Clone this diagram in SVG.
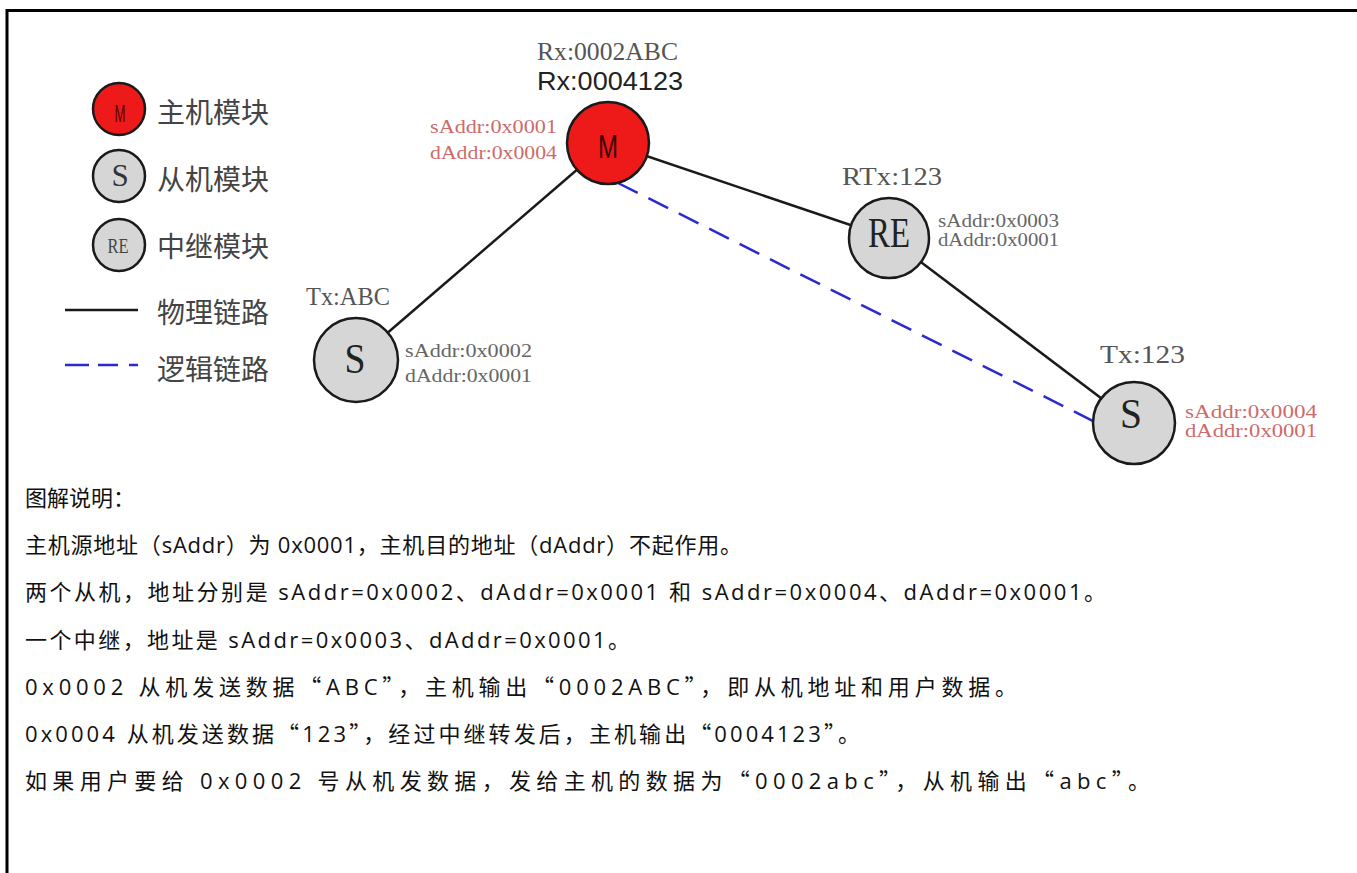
<svg xmlns="http://www.w3.org/2000/svg" width="1357" height="873" viewBox="0 0 1357 873">
<style>
.lbl{font-family:"Liberation Serif",serif;font-size:26px;fill:#555;}
.addr{font-family:"Liberation Serif",serif;font-size:19px;fill:#666;}
.addrr{font-family:"Liberation Serif",serif;font-size:19px;fill:#cd6b6b;}
.node{stroke:#1a1a1a;stroke-width:2.5;}
.grey{fill:#d6d6d6;}
.redf{fill:#ee1a1a;}
.big{font-family:"Liberation Serif",serif;font-size:42px;fill:#222;text-anchor:middle;}
.leg{font-family:"Noto Sans CJK SC",sans-serif;font-size:28px;fill:#444;}
.body{font-family:"Open Sans","Noto Sans CJK SC",sans-serif;font-size:22px;fill:#111;}
.q{font-family:"Noto Sans CJK SC",sans-serif;font-feature-settings:"fwid" 1;}
.phys{stroke:#1a1a1a;stroke-width:2.5;fill:none;}
.logic{stroke:#2a2ad0;stroke-width:2.5;stroke-dasharray:22 12;fill:none;}
</style>
<rect width="1357" height="873" fill="#fff"/>
<g id="frame">
<line x1="6" y1="10.5" x2="1357" y2="10.5" stroke="#000" stroke-width="3"/>
<line x1="7" y1="9" x2="7" y2="873" stroke="#000" stroke-width="3"/>
</g>
<g id="legend">
<circle class="node redf" cx="119" cy="109" r="26"/>
<text x="120" y="122" font-family="Liberation Sans" font-size="24" fill="#5a0000" text-anchor="middle" textLength="11" lengthAdjust="spacingAndGlyphs">M</text>
<text class="leg" x="157" y="123">主机模块</text>
<circle class="node grey" cx="119" cy="176" r="26"/>
<text x="120" y="186" font-family="Liberation Serif" font-size="31" fill="#333" text-anchor="middle">S</text>
<text class="leg" x="157" y="190">从机模块</text>
<circle class="node grey" cx="119" cy="245" r="26"/>
<text x="118" y="253" font-family="Liberation Serif" font-size="21" fill="#444" text-anchor="middle" textLength="21" lengthAdjust="spacingAndGlyphs">RE</text>
<text class="leg" x="157" y="257">中继模块</text>
<line class="phys" x1="65" y1="310" x2="138" y2="310"/>
<text class="leg" x="157" y="323">物理链路</text>
<line class="logic" x1="65" y1="365" x2="138" y2="365" style="stroke-dasharray:24 9 20 11"/>
<text class="leg" x="157" y="380">逻辑链路</text>
</g>
<g id="connectors">
<line class="phys" x1="608" y1="143" x2="356" y2="360"/>
<line class="phys" x1="608" y1="143" x2="889" y2="238"/>
<line class="phys" x1="889" y1="238" x2="1134" y2="423"/>
<line class="logic" x1="618" y1="183" x2="1097" y2="423"/>
</g>
<g id="node-master">
<circle class="node redf" cx="608" cy="143" r="41"/>
<text x="608" y="158" font-family="Liberation Sans" font-size="34" fill="#3a0000" text-anchor="middle" textLength="20" lengthAdjust="spacingAndGlyphs">M</text>
<text class="lbl" x="537" y="60" font-size="25" textLength="141" lengthAdjust="spacingAndGlyphs">Rx:0002ABC</text>
<text x="537" y="90" font-family="Liberation Sans, sans-serif" font-size="26" fill="#222" textLength="146" lengthAdjust="spacingAndGlyphs">Rx:0004123</text>
<text class="addrr" x="557" y="133" text-anchor="end" textLength="127" lengthAdjust="spacingAndGlyphs">sAddr:0x0001</text>
<text class="addrr" x="557" y="159" text-anchor="end" textLength="127" lengthAdjust="spacingAndGlyphs">dAddr:0x0004</text>
</g>
<g id="node-relay">
<circle class="node grey" cx="889" cy="238" r="40"/>
<text class="big" x="889" y="247" textLength="42" lengthAdjust="spacingAndGlyphs">RE</text>
<text class="lbl" x="842" y="185" textLength="100" lengthAdjust="spacingAndGlyphs">RTx:123</text>
<text class="addr" x="938" y="227" textLength="121" lengthAdjust="spacingAndGlyphs">sAddr:0x0003</text>
<text class="addr" x="938" y="246" textLength="121" lengthAdjust="spacingAndGlyphs">dAddr:0x0001</text>
</g>
<g id="node-slave1">
<circle class="node grey" cx="356" cy="360" r="42"/>
<text class="big" x="355" y="373" textLength="21" lengthAdjust="spacingAndGlyphs">S</text>
<text class="lbl" x="306" y="305" textLength="84" lengthAdjust="spacingAndGlyphs">Tx:ABC</text>
<text class="addr" x="405" y="357" textLength="127" lengthAdjust="spacingAndGlyphs">sAddr:0x0002</text>
<text class="addr" x="405" y="382" textLength="127" lengthAdjust="spacingAndGlyphs">dAddr:0x0001</text>
</g>
<g id="node-slave2">
<circle class="node grey" cx="1134" cy="423" r="41"/>
<text class="big" x="1131" y="428" textLength="22" lengthAdjust="spacingAndGlyphs">S</text>
<text class="lbl" x="1100" y="363" textLength="85" lengthAdjust="spacingAndGlyphs">Tx:123</text>
<text class="addrr" x="1185" y="418" textLength="132" lengthAdjust="spacingAndGlyphs">sAddr:0x0004</text>
<text class="addrr" x="1185" y="437" textLength="132" lengthAdjust="spacingAndGlyphs">dAddr:0x0001</text>
</g>
<g id="notes">
<text class="body" x="25" y="506">图解说明：</text>
<text class="body" x="25" y="553" textLength="717" lengthAdjust="spacing">主机源地址（sAddr）为 0x0001，主机目的地址（dAddr）不起作用。</text>
<text class="body" x="25" y="600" textLength="1081" lengthAdjust="spacing">两个从机，地址分别是 sAddr=0x0002、dAddr=0x0001 和 sAddr=0x0004、dAddr=0x0001。</text>
<text class="body" x="25" y="648" textLength="605" lengthAdjust="spacing">一个中继，地址是 sAddr=0x0003、dAddr=0x0001。</text>
<text class="body" x="25" y="695" textLength="992" lengthAdjust="spacing">0x0002 从机发送数据<tspan class="q">“</tspan>ABC<tspan class="q">”</tspan>，主机输出<tspan class="q">“</tspan>0002ABC<tspan class="q">”</tspan>，即从机地址和用户数据。</text>
<text class="body" x="25" y="742" textLength="835" lengthAdjust="spacing">0x0004 从机发送数据<tspan class="q">“</tspan>123<tspan class="q">”</tspan>，经过中继转发后，主机输出<tspan class="q">“</tspan>0004123<tspan class="q">”</tspan>。</text>
<text class="body" x="25" y="789" textLength="1125" lengthAdjust="spacing">如果用户要给 0x0002 号从机发数据，发给主机的数据为<tspan class="q">“</tspan>0002abc<tspan class="q">”</tspan>，从机输出<tspan class="q">“</tspan>abc<tspan class="q">”</tspan>。</text>
</g>
</svg>
